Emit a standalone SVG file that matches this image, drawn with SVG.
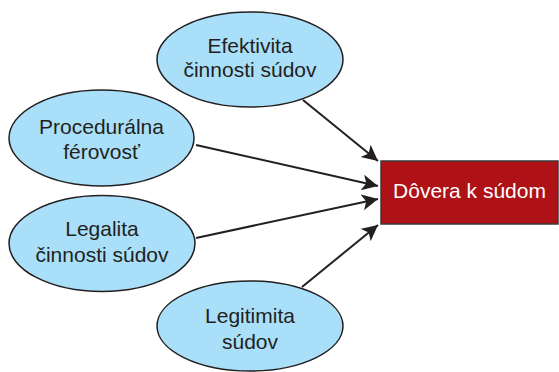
<svg xmlns="http://www.w3.org/2000/svg" width="559" height="372" viewBox="0 0 559 372">
<defs>
<style>
.n ellipse{fill:#a9dff8;stroke:#231f20;stroke-width:1.5}
.t{font-family:"Liberation Sans",Arial,sans-serif;font-size:21px;fill:#231f20;text-anchor:middle}
.c line{stroke:#231f20;stroke-width:2}
</style>
<marker id="ah" markerWidth="10" markerHeight="10" refX="8" refY="4" orient="auto" markerUnits="strokeWidth">
<path d="M0,0 L8,4 L0,8 L2,4 Z" fill="#231f20"/>
</marker>
</defs>
<rect width="559" height="372" fill="#fff"/>
<g id="connectors" class="c">
<line x1="303" y1="100" x2="378" y2="161" marker-end="url(#ah)"/>
<line x1="196" y1="145" x2="378" y2="186" marker-end="url(#ah)"/>
<line x1="196" y1="238" x2="378" y2="199" marker-end="url(#ah)"/>
<line x1="302" y1="287" x2="378" y2="225" marker-end="url(#ah)"/>
</g>
<g id="n1" class="n">
<ellipse cx="250" cy="59.5" rx="93" ry="47.5"/>
<text class="t" x="250" y="53">Efektivita</text>
<text class="t" x="250" y="77">činnosti súdov</text>
</g>
<g id="n2" class="n">
<ellipse cx="101.5" cy="138" rx="92.5" ry="48"/>
<text class="t" x="101.5" y="134">Procedurálna</text>
<text class="t" x="101.5" y="159">férovosť</text>
</g>
<g id="n3" class="n">
<ellipse cx="102" cy="243.5" rx="93" ry="48"/>
<text class="t" x="102" y="236">Legalita</text>
<text class="t" x="102" y="262">činnosti súdov</text>
</g>
<g id="n4" class="n">
<ellipse cx="250" cy="326" rx="93" ry="45"/>
<text class="t" x="250" y="323">Legitimita</text>
<text class="t" x="250" y="349">súdov</text>
</g>
<g id="target">
<rect x="381" y="161" width="177" height="63" fill="#ae1116" stroke="#3a3a3a" stroke-width="1.5"/>
<text class="t" x="469.5" y="198" style="fill:#fff">Dôvera k súdom</text>
</g>
</svg>
